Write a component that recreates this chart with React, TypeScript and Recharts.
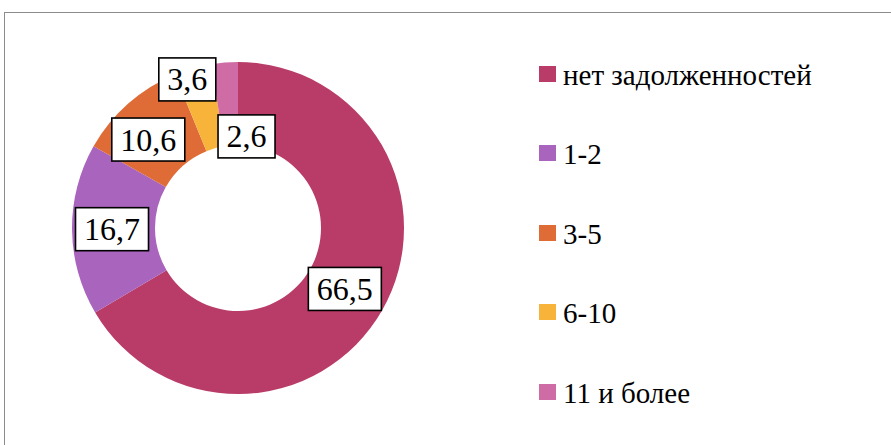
import { PieChart, Pie, Cell, Legend } from 'recharts';

const categories = ['нет задолженностей', '1-2', '3-5', '6-10', '11 и более'];
const shares = [66.5, 16.7, 10.6, 3.6, 2.6];
const colors = ['#B93C68', '#A964BD', '#DF6C37', '#F8B43A', '#D06CA5'];

const data = categories.map((name, i) => ({ name, value: shares[i] }));

// manual nudges of the data labels (radius in px, angle in degrees), like in the original
const labelRadius = [123, 126, 126, 157, 92];
const labelAngleShift = [0, 0, 4, 3, -10];

const RAD = Math.PI / 180;
const FONT =
  '"Liberation Serif", Tinos, "Times New Roman", "DejaVu Serif", "Noto Serif", FreeSerif, "Nimbus Roman", "Nimbus Roman No9 L", serif';

const charWidth = (c: string) => (c === ',' ? 0.25 : 0.5);

const renderLabel = (props: any) => {
  const { cx, cy, midAngle, index, value } = props;
  const angle = midAngle + labelAngleShift[index];
  const r = labelRadius[index];
  const x = cx + r * Math.cos(-angle * RAD);
  const y = cy + r * Math.sin(-angle * RAD);
  const text = String(value).replace('.', ',');
  const fs = 32;
  const w = text.split('').reduce((s, c) => s + charWidth(c), 0) * fs + 17;
  const h = 43;
  return (
    <g key={`lbl-${index}`}>
      <rect x={x - w / 2} y={y - h / 2} width={w} height={h} fill="#fff" stroke="#000" strokeWidth={1.6} />
      <text x={x} y={y + 11} textAnchor="middle" style={{ fontFamily: FONT }} fontSize={fs} fill="#000">
        {text}
      </text>
    </g>
  );
};

const renderLegend = (props: any) => {
  const items = (props.payload && props.payload.length
    ? props.payload.map((p: any) => ({ value: p.value, color: p.color }))
    : categories.map((c, i) => ({ value: c, color: colors[i] }))
  ).sort((a: any, b: any) => categories.indexOf(a.value) - categories.indexOf(b.value));
  return (
    <div style={{ fontFamily: FONT }}>
      {items.map((p: any, i: number) => (
        <div key={i} style={{ height: 79.5, display: 'flex', alignItems: 'center' }}>
          <span style={{ width: 17, height: 16, background: p.color || colors[i], display: 'inline-block', marginRight: 7 }} />
          <span style={{ fontSize: 29, color: '#000', lineHeight: '29px', paddingTop: 3 }}>{p.value}</span>
        </div>
      ))}
    </div>
  );
};

export default function App() {
  return (
    <div style={{ position: 'absolute', left: 0, top: 0, width: 891, height: 445, overflow: 'hidden', background: '#fff' }}>
      <div style={{ position: 'absolute', left: 4, top: 12, width: 920, height: 470, border: '1.5px solid #8c8c8c' }} />
      <div style={{ position: 'absolute', left: 0, top: 0 }}>
        <PieChart width={891} height={445} margin={{ top: 0, right: 0, bottom: 0, left: 0 }}>
          <Pie
            data={data}
            dataKey="value"
            nameKey="name"
            cx={238}
            cy={228}
            innerRadius={83}
            outerRadius={166}
            startAngle={90}
            endAngle={-270}
            stroke="none"
            label={renderLabel}
            labelLine={false}
            isAnimationActive={false}
          >
            {data.map((d, i) => (
              <Cell key={d.name} fill={colors[i]} />
            ))}
          </Pie>
          <Legend
            layout="vertical"
            verticalAlign="top"
            align="right"
            content={renderLegend}
            wrapperStyle={{ left: 539, top: 34, width: 340 }}
          />
        </PieChart>
      </div>
    </div>
  );
}
